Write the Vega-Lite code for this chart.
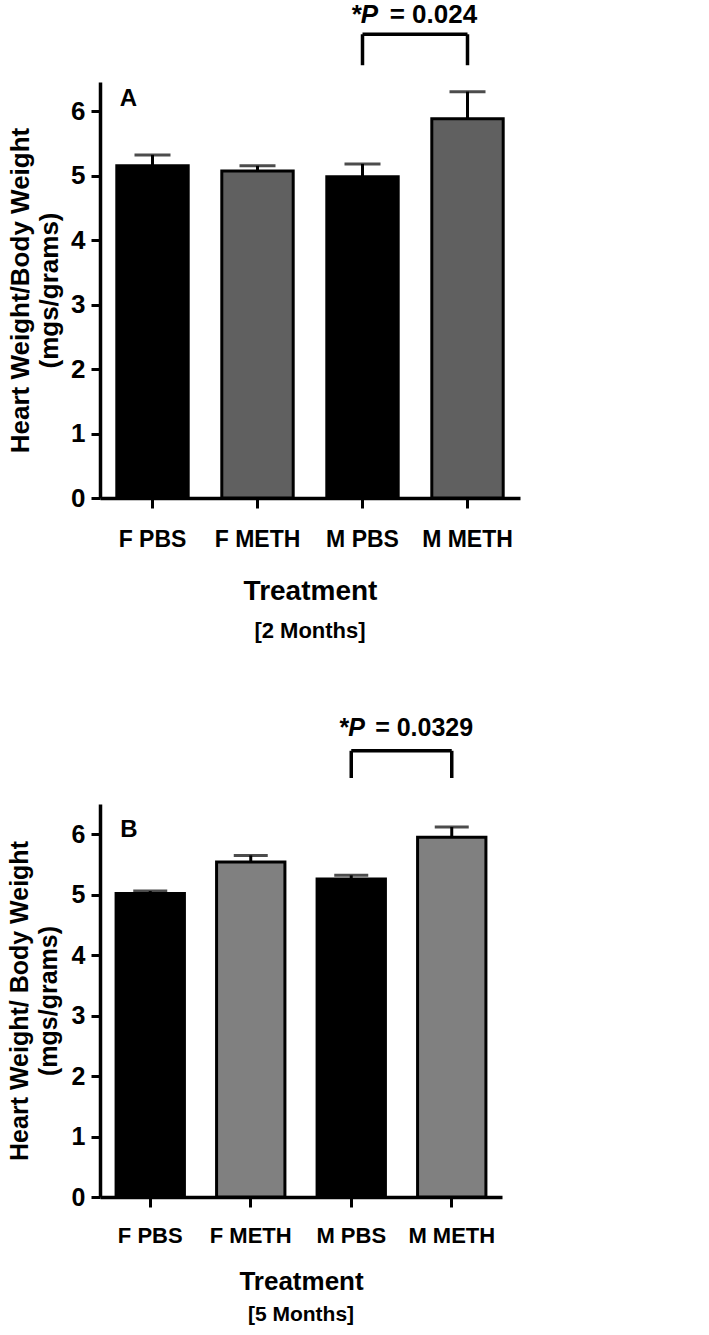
{
  "$schema": "https://vega.github.io/schema/vega-lite/v6.json",
  "background": "white",
  "padding": {"left": 7, "top": 2, "right": 5, "bottom": 5},
  "spacing": 73,
  "resolve": {"scale": {"fill": "independent"}},
  "config": {
    "view": {"stroke": null},
    "font": "Liberation Sans",
    "axis": {"grid": false, "domainColor": "black", "tickColor": "black", "labelColor": "black", "titleColor": "black"},
    "title": {"color": "black"}
  },
  "vconcat": [
    {
      "width": 420,
      "height": 416,
      "title": {"text": "[2  Months]", "orient": "bottom", "frame": "group", "anchor": "middle", "font": "Liberation Sans", "fontSize": 22, "fontWeight": "bold", "offset": 16},
      "layer": [
        {
          "data": {"values": [
            {"group": "F PBS", "drug": "PBS", "mean": 5.15, "upper": 5.32},
            {"group": "F METH", "drug": "METH", "mean": 5.07, "upper": 5.15},
            {"group": "M PBS", "drug": "PBS", "mean": 4.98, "upper": 5.18},
            {"group": "M METH", "drug": "METH", "mean": 5.88, "upper": 6.30}
          ]},
          "layer": [
            {
              "mark": {"type": "bar", "stroke": "black", "strokeWidth": 3},
              "encoding": {
                "x": {"field": "group", "type": "nominal",
                  "scale": {"domain": ["F PBS", "F METH", "M PBS", "M METH"], "paddingInner": 0.32, "paddingOuter": 0.16},
                  "axis": {"labelAngle": 0, "domainWidth": 3.5, "tickSize": 10, "tickWidth": 3, "labelFontSize": 23, "labelFontWeight": "bold", "labelPadding": 20, "titleFontSize": 28, "titleFontWeight": "bold", "titlePadding": 26},
                  "title": "Treatment"},
                "y": {"field": "mean", "type": "quantitative",
                  "scale": {"domain": [0, 6.45], "nice": false},
                  "axis": {"values": [0, 1, 2, 3, 4, 5, 6], "format": "d", "domainWidth": 3.5, "tickSize": 9, "tickWidth": 3, "labelFontSize": 26, "labelFontWeight": "bold", "labelPadding": 6, "titleFontSize": 26, "titleFontWeight": "bold", "titleLineHeight": 29, "titlePadding": 8},
                  "title": ["Heart Weight/Body Weight", "(mgs/grams)"]},
                "fill": {"field": "drug", "type": "nominal", "scale": {"domain": ["PBS", "METH"], "range": ["#000000", "#606060"]}, "legend": null}
              }
            },
            {
              "mark": {"type": "rule", "color": "black", "strokeWidth": 3},
              "encoding": {
                "x": {"field": "group", "type": "nominal"},
                "y": {"field": "mean", "type": "quantitative"},
                "y2": {"field": "upper"}
              }
            },
            {
              "mark": {"type": "tick", "color": "black", "size": 36, "thickness": 3},
              "encoding": {
                "x": {"field": "group", "type": "nominal"},
                "y": {"field": "upper", "type": "quantitative"}
              }
            }
          ]
        },
        {
          "data": {"values": [
            {"a": "M PBS", "b": "M METH", "y1": 7.19, "y2": 7.19},
            {"a": "M PBS", "b": "M PBS", "y1": 6.71, "y2": 7.19},
            {"a": "M METH", "b": "M METH", "y1": 6.71, "y2": 7.19}
          ]},
          "mark": {"type": "rule", "color": "black", "strokeWidth": 3.5},
          "encoding": {
            "x": {"field": "a", "type": "nominal"},
            "x2": {"field": "b"},
            "y": {"field": "y1", "type": "quantitative"},
            "y2": {"field": "y2"}
          }
        },
        {
          "data": {"values": [{"g": "M PBS", "label": "*P", "y": 7.36}]},
          "mark": {"type": "text", "align": "right", "baseline": "alphabetic", "fontSize": 26, "fontWeight": "bold", "fontStyle": "italic", "color": "black"},
          "encoding": {
            "x": {"field": "g", "type": "nominal", "bandPosition": 0.72},
            "y": {"field": "y", "type": "quantitative"},
            "text": {"field": "label"}
          }
        },
        {
          "data": {"values": [{"g": "M PBS", "label": "= 0.024", "y": 7.36}]},
          "mark": {"type": "text", "align": "left", "baseline": "alphabetic", "fontSize": 26, "fontWeight": "bold", "color": "black"},
          "encoding": {
            "x": {"field": "g", "type": "nominal", "bandPosition": 0.88},
            "y": {"field": "y", "type": "quantitative"},
            "text": {"field": "label"}
          }
        },
        {
          "data": {"values": [{"g": "F PBS", "label": "A", "y": 6.08}]},
          "mark": {"type": "text", "align": "left", "baseline": "alphabetic", "fontSize": 24, "fontWeight": "bold", "color": "black"},
          "encoding": {
            "x": {"field": "g", "type": "nominal", "bandPosition": 0.04},
            "y": {"field": "y", "type": "quantitative"},
            "text": {"field": "label"}
          }
        }
      ]
    },
    {
      "width": 402,
      "height": 393,
      "title": {"text": "[5 Months]", "orient": "bottom", "frame": "group", "anchor": "middle", "font": "Liberation Sans", "fontSize": 21, "fontWeight": "bold", "offset": 10},
      "layer": [
        {
          "data": {"values": [
            {"group": "F PBS", "drug": "PBS", "mean": 5.02, "upper": 5.06},
            {"group": "F METH", "drug": "METH", "mean": 5.54, "upper": 5.65},
            {"group": "M PBS", "drug": "PBS", "mean": 5.26, "upper": 5.32},
            {"group": "M METH", "drug": "METH", "mean": 5.95, "upper": 6.12}
          ]},
          "layer": [
            {
              "mark": {"type": "bar", "stroke": "black", "strokeWidth": 3},
              "encoding": {
                "x": {"field": "group", "type": "nominal",
                  "scale": {"domain": ["F PBS", "F METH", "M PBS", "M METH"], "paddingInner": 0.32, "paddingOuter": 0.16},
                  "axis": {"labelAngle": 0, "domainWidth": 3.5, "tickSize": 10, "tickWidth": 3, "labelFontSize": 22, "labelFontWeight": "bold", "labelPadding": 18, "titleFontSize": 26, "titleFontWeight": "bold", "titlePadding": 22},
                  "title": "Treatment"},
                "y": {"field": "mean", "type": "quantitative",
                  "scale": {"domain": [0, 6.5], "nice": false},
                  "axis": {"values": [0, 0.5, 1, 1.5, 2, 2.5, 3, 3.5, 4, 4.5, 5, 5.5, 6, 6.5],
                    "labelExpr": "datum.value % 1 == 0 ? format(datum.value, 'd') : ''",
                    "tickSize": {"condition": {"test": "datum.value % 1 != 0", "value": 4}, "value": 9},
                    "domainWidth": 3.5, "tickWidth": 3, "labelFontSize": 25, "labelFontWeight": "bold", "labelPadding": 6, "titleFontSize": 25, "titleFontWeight": "bold", "titleLineHeight": 29, "titlePadding": 10},
                  "title": ["Heart Weight/ Body Weight", "(mgs/grams)"]},
                "fill": {"field": "drug", "type": "nominal", "scale": {"domain": ["PBS", "METH"], "range": ["#000000", "#808080"]}, "legend": null}
              }
            },
            {
              "mark": {"type": "rule", "color": "black", "strokeWidth": 3},
              "encoding": {
                "x": {"field": "group", "type": "nominal"},
                "y": {"field": "mean", "type": "quantitative"},
                "y2": {"field": "upper"}
              }
            },
            {
              "mark": {"type": "tick", "color": "black", "size": 34, "thickness": 3},
              "encoding": {
                "x": {"field": "group", "type": "nominal"},
                "y": {"field": "upper", "type": "quantitative"}
              }
            }
          ]
        },
        {
          "data": {"values": [
            {"a": "M PBS", "b": "M METH", "y1": 7.38, "y2": 7.38},
            {"a": "M PBS", "b": "M PBS", "y1": 6.93, "y2": 7.38},
            {"a": "M METH", "b": "M METH", "y1": 6.93, "y2": 7.38}
          ]},
          "mark": {"type": "rule", "color": "black", "strokeWidth": 3.5},
          "encoding": {
            "x": {"field": "a", "type": "nominal"},
            "x2": {"field": "b"},
            "y": {"field": "y1", "type": "quantitative"},
            "y2": {"field": "y2"}
          }
        },
        {
          "data": {"values": [{"g": "M PBS", "label": "*P", "y": 7.63}]},
          "mark": {"type": "text", "align": "right", "baseline": "alphabetic", "fontSize": 25, "fontWeight": "bold", "fontStyle": "italic", "color": "black"},
          "encoding": {
            "x": {"field": "g", "type": "nominal", "bandPosition": 0.7},
            "y": {"field": "y", "type": "quantitative"},
            "text": {"field": "label"}
          }
        },
        {
          "data": {"values": [{"g": "M PBS", "label": "= 0.0329", "y": 7.63}]},
          "mark": {"type": "text", "align": "left", "baseline": "alphabetic", "fontSize": 25, "fontWeight": "bold", "color": "black"},
          "encoding": {
            "x": {"field": "g", "type": "nominal", "bandPosition": 0.85},
            "y": {"field": "y", "type": "quantitative"},
            "text": {"field": "label"}
          }
        },
        {
          "data": {"values": [{"g": "F PBS", "label": "B", "y": 5.95}]},
          "mark": {"type": "text", "align": "left", "baseline": "alphabetic", "fontSize": 24, "fontWeight": "bold", "color": "black"},
          "encoding": {
            "x": {"field": "g", "type": "nominal", "bandPosition": 0.06},
            "y": {"field": "y", "type": "quantitative"},
            "text": {"field": "label"}
          }
        }
      ]
    }
  ]
}
